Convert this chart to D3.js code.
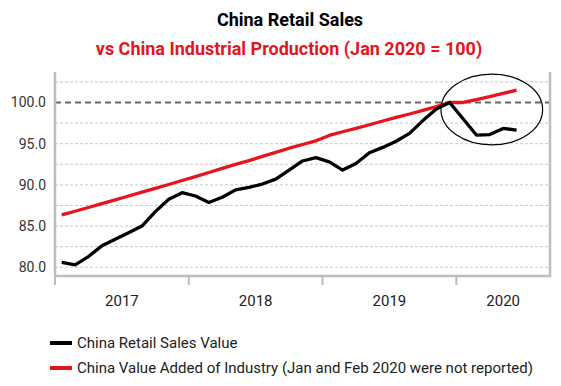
<!DOCTYPE html>
<html lang="en">
<head>
<meta charset="UTF-8">
<title>China Retail Sales</title>
<script src="https://d3js.org/d3.v7.min.js"></script>
<style>
  body { margin: 0; background: #fff; }
  svg { display: block; font-family: Roboto, "Noto Sans", sans-serif; }
</style>
</head>
<body>
<svg id="chart" width="561" height="386"></svg>
<script>
// categories: 10 slots per year (Mar-Dec), 2020 has 7 slots
var years = ["2017", "2018", "2019", "2020"];
var slotMonths = ["Mar", "Apr", "May", "Jun", "Jul", "Aug", "Sep", "Oct", "Nov", "Dec"];
var months2020 = ["Jan", "Feb", "Mar", "Apr", "May", "Jun", "Jul"];
var categories = [];
years.slice(0, 3).forEach(y => slotMonths.forEach(m => categories.push(y + "-" + m)));
months2020.forEach(m => categories.push("2020-" + m));

// China Retail Sales Value (index)
var retail = [80.6, 80.3, 81.3, 82.6, 83.4, 84.2, 85.0, 86.75, 88.25, 89.05,
              88.65, 87.85, 88.5, 89.4, 89.7, 90.1, 90.7, 91.8, 92.9, 93.3,
              92.8, 91.8, 92.6, 93.9, 94.55, 95.3, 96.25, 97.8, 99.2, 100.0,
              null, 96.05, 96.1, 96.85, 96.65];
// China Value Added of Industry (index)
var industry = [86.35, 86.8, 87.25, 87.72, 88.18, 88.65, 89.12, 89.58, 90.05, 90.53,
                91.0, 91.5, 92.0, 92.48, 92.95, 93.45, 93.95, 94.45, 94.9, 95.35,
                96.0, 96.45, 96.85, 97.3, 97.75, 98.2, 98.6, 99.05, 99.5, 100.0,
                100.0, 100.35, 100.7, 101.1, 101.5];

var yTicks = [80, 85, 90, 95, 100];
var yGrid = [80, 82.5, 85, 87.5, 90, 92.5, 95, 97.5, 102.5];

var svg = d3.select("#chart");
var mLeft = 55, mRight = 550, mTop = 72, mBottom = 276;

var x = d3.scaleBand().domain(categories).range([mLeft, mRight]).padding(0);
var xc = c => x(c) + x.bandwidth() / 2;
var y = d3.scaleLinear().domain([78.94, 103.7]).range([mBottom, mTop]);

// titles
svg.append("text").attr("x", 290).attr("y", 26).attr("text-anchor", "middle")
  .style("font-size", "18px").style("font-weight", "bold").attr("fill", "#000")
  .text("China Retail Sales");
svg.append("text").attr("x", 289).attr("y", 55).attr("text-anchor", "middle")
  .style("font-size", "18px").style("font-weight", "bold").attr("fill", "#e3161c")
  .text("vs China Industrial Production (Jan 2020 = 100)");

// gridlines
svg.append("g").selectAll("line").data(yGrid).enter().append("line")
  .attr("x1", mLeft).attr("x2", mRight)
  .attr("y1", d => y(d)).attr("y2", d => y(d))
  .attr("stroke", "#c8c8c8").attr("stroke-width", 1).attr("stroke-dasharray", "3,2");
svg.append("line")
  .attr("x1", mLeft).attr("x2", mRight).attr("y1", y(100)).attr("y2", y(100))
  .attr("stroke", "#666").attr("stroke-width", 2).attr("stroke-dasharray", "6,4");

// y labels
svg.append("g").selectAll("text").data(yTicks).enter().append("text")
  .attr("x", 46).attr("y", d => y(d) + 5).attr("text-anchor", "end")
  .style("font-size", "14px").attr("fill", "#333")
  .text(d => d3.format(".1f")(d));

// frame: left, right, bottom
svg.append("path")
  .attr("d", "M" + mLeft + "," + mTop + "V" + mBottom + "H" + mRight + "V" + mTop)
  .attr("fill", "none").attr("stroke", "#bdbdbd").attr("stroke-width", 2.5);

// year ticks and labels
var yearStarts = years.map(yr => categories.find(c => c.startsWith(yr)));
svg.append("g").selectAll("line").data(yearStarts).enter().append("line")
  .attr("x1", d => x(d)).attr("x2", d => x(d))
  .attr("y1", mBottom).attr("y2", mBottom + 9)
  .attr("stroke", "#bdbdbd").attr("stroke-width", 2);
svg.append("g").selectAll("text").data(years).enter().append("text")
  .attr("x", yr => {
    var cs = categories.filter(c => c.startsWith(yr));
    return (x(cs[0]) + x(cs[cs.length - 1]) + x.bandwidth()) / 2;
  })
  .attr("y", 306).attr("text-anchor", "middle")
  .style("font-size", "15px").attr("fill", "#222")
  .text(d => d);

// lines
function drawLine(vals, color) {
  var pts = vals.map((v, i) => [categories[i], v]).filter(p => p[1] !== null);
  svg.append("path").datum(pts)
    .attr("d", d3.line().x(p => xc(p[0])).y(p => y(p[1])))
    .attr("fill", "none").attr("stroke", color)
    .attr("stroke-width", 3.3).attr("stroke-linejoin", "round");
}
drawLine(industry, "#e8141b");
drawLine(retail, "#000");

// annotation ellipse around 2020
svg.append("ellipse")
  .attr("cx", xc("2020-Mar") + 2).attr("cy", y(99.15))
  .attr("rx", x.bandwidth() * 3.8).attr("ry", y(94.85) - y(99.15))
  .attr("fill", "none").attr("stroke", "#000").attr("stroke-width", 1.2);

// legend
var legend = [
  {name: "China Retail Sales Value", color: "#000"},
  {name: "China Value Added of Industry (Jan and Feb 2020 were not reported)", color: "#e8141b"}
];
var lg = svg.append("g").selectAll("g").data(legend).enter().append("g")
  .attr("transform", (d, i) => "translate(0," + (343 + i * 25) + ")");
lg.append("line").attr("x1", 50).attr("x2", 72).attr("y1", 0).attr("y2", 0)
  .attr("stroke", d => d.color).attr("stroke-width", 4);
lg.append("text").attr("x", 77).attr("y", 5)
  .style("font-size", "15px").attr("fill", "#222")
  .text(d => d.name);
</script>
</body>
</html>
